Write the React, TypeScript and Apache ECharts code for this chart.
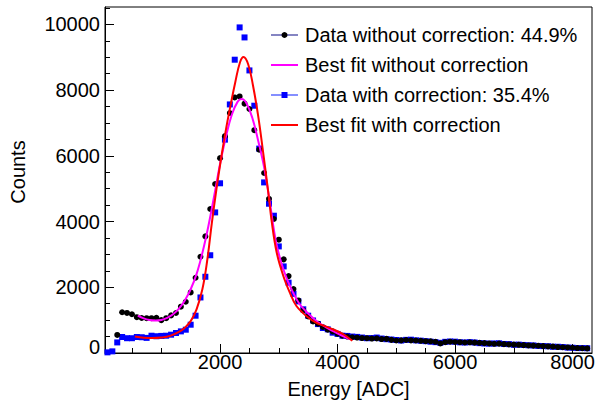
import React, { useEffect, useRef } from "react";
import * as echarts from "echarts";

const binWidth = 83.33;

// bin k = 1..99 (energy = k * binWidth); null where no marker is drawn
const countsWithout = [
  null, null, 550, 1240, 1220, 1180, 1090, 1065, 1060, 1060,
  1070, 1000, 1060, 1145, 1217, 1410, 1560, 1844, 2290, 2930,
  3549, 4382, 5143, 5930, 6600, 7304, 7778, 7809, 7587, 7425,
  6780, 6187, 5478, 4690, 4078, 3448, 2850, 2340, 1948, 1600,
  1297, 1114, 962, 891, 791, 709, 658, 587, 526, 500,
  480, 470, 455, 450, 440, 445, 425, 430, 400, 380,
  385, 395, 385, 380, 370, 360, 355, 340, 290, 330,
  345, 335, 330, 320, 325, 315, 310, 300, 290, 280,
  285, 270, 260, 255, 250, 240, 230, 225, 220, 210,
  200, 195, 180, 175, 170, 160, 150, 145, 140,
];

const countsWith = [
  20, 50, 322, 487, 450, 450, 487, 480, 460, 526,
  510, 520, 526, 557, 608, 658, 709, 861, 1135, 1690,
  2320, 2975, 4279, 5165, 6493, 7565, 8926, 9909, 9604, 8600,
  7526, 6220, 5192, 4543, 4178, 3244, 2635, 2140, 1800, 1571,
  1330, 1135, 990, 880, 760, 720, 618, 580, 526, 520,
  500, 490, 470, 450, 455, 470, 440, 420, 410, 395,
  380, 400, 405, 385, 375, 360, 345, 330, 310, 340,
  350, 345, 325, 320, 330, 320, 300, 290, 285, 290,
  295, 275, 270, 250, 255, 245, 235, 230, 215, 210,
  205, 190, 190, 180, 165, 160, 150, 150, 145,
];

const fitWithoutEnergy = [600, 700, 800, 900, 1000, 1100, 1200, 1300, 1400, 1500, 1600, 1700, 1800, 1900, 2000, 2100, 2200, 2300, 2370, 2450, 2550, 2650, 2750, 2850, 2950, 3050, 3150, 3250, 3350, 3500, 3650, 3800, 3950, 4100, 4200];
const fitWithoutCounts = [1140, 1055, 1005, 990, 1005, 1070, 1180, 1350, 1600, 1940, 2400, 3050, 3850, 4780, 5750, 6580, 7250, 7650, 7730, 7600, 7150, 6450, 5650, 4550, 3400, 2700, 2200, 1820, 1500, 1200, 960, 790, 640, 510, 420];

const fitWithEnergy = [550, 700, 850, 1000, 1150, 1300, 1400, 1500, 1600, 1700, 1780, 1860, 1940, 2020, 2100, 2180, 2260, 2340, 2400, 2480, 2560, 2650, 2730, 2820, 2880, 2965, 3080, 3190, 3300, 3500, 3650, 3800, 3950, 4100, 4250];
const fitWithCounts = [500, 465, 455, 470, 520, 640, 770, 970, 1330, 1950, 2800, 3950, 5000, 5950, 6800, 7550, 8250, 8850, 9008, 8780, 8150, 7200, 6150, 4900, 3990, 3050, 2330, 1830, 1430, 1080, 910, 810, 700, 570, 370];

const xMajorTicks = [2000, 4000, 6000, 8000];
const xMinorTicks = [500, 1000, 1500, 2500, 3000, 3500, 4500, 5000, 5500, 6500, 7000, 7500];
const yMajorTicks = [0, 2000, 4000, 6000, 8000, 10000];
const yMinorTicks = [500, 1000, 1500, 2500, 3000, 3500, 4500, 5000, 5500, 6500, 7000, 7500, 8500, 9000, 9500, 10500];

const legendLabels = [
  "Data without correction: 44.9%",
  "Best fit without correction",
  "Data with correction: 35.4%",
  "Best fit with correction",
];
const xTitle = "Energy [ADC]";
const yTitle = "Counts";

const FONT = "'Liberation Sans', Arial, Helvetica, sans-serif";

function pairs(xs: number[], ys: (number | null)[]) {
  const out: [number, number][] = [];
  ys.forEach((y, i) => {
    if (y !== null && y !== undefined) out.push([xs[i], y]);
  });
  return out;
}

export default function App() {
  const ref = useRef<HTMLDivElement>(null);
  useEffect(() => {
    document.body.style.margin = "0";
    if (!ref.current) return;
    const chart = echarts.init(ref.current, undefined, { renderer: "svg" });
    const energies = countsWith.map((_, i) => (i + 1) * binWidth);
    const xMin = 41.67;
    const xMax = 8331;
    const yMax = 10530;
    const baseAxis = {
      type: "value" as const,
      splitLine: { show: false },
    };
    const legendRows = [35, 65, 95, 125];
    const lx1 = 271, lx2 = 298, lmx = 284.5, ltx = 305;
    const graphic: any[] = [];
    const lineColors = ["#333399", "#ff00ff", "#3344ff", "#ff0000"];
    legendRows.forEach((y, i) => {
      graphic.push({
        type: "line",
        shape: { x1: lx1, y1: y, x2: lx2, y2: y },
        style: { stroke: lineColors[i], lineWidth: i % 2 === 1 ? 2 : 1.2 },
      });
      if (i === 0) {
        graphic.push({ type: "circle", shape: { cx: lmx, cy: y, r: 3 }, style: { fill: "#000" } });
      }
      if (i === 2) {
        graphic.push({ type: "rect", shape: { x: lmx - 3, y: y - 3, width: 6, height: 6 }, style: { fill: "#0000ff" } });
      }
      graphic.push({
        type: "text",
        x: ltx,
        y: y,
        style: {
          text: legendLabels[i],
          font: `20px ${FONT}`,
          fill: "#000",
          verticalAlign: "middle",
          align: "left",
        },
      });
    });
    graphic.push({
      type: "text",
      x: 17.5,
      y: 172,
      rotation: Math.PI / 2,
      style: {
        text: yTitle,
        font: `20px ${FONT}`,
        fill: "#000",
        align: "center",
        verticalAlign: "middle",
      },
    });

    chart.setOption({
      animation: false,
      backgroundColor: "#fff",
      grid: {
        left: 105,
        right: 3,
        top: 7,
        bottom: 47,
        show: true,
        borderColor: "#000",
        borderWidth: 1,
        containLabel: false,
        outerBoundsMode: "none",
      },
      xAxis: [
        {
          ...baseAxis,
          min: xMin,
          max: xMax,
          position: "bottom",
          name: xTitle,
          nameLocation: "middle",
          nameGap: 26,
          nameTextStyle: { fontFamily: FONT, fontSize: 20, color: "#000" },
          axisLine: { show: true, lineStyle: { color: "#000", width: 1 } },
          axisTick: { show: true, inside: true, length: 9, lineStyle: { color: "#000" }, customValues: xMajorTicks },
          axisLabel: {
            show: true,
            customValues: xMajorTicks,
            fontFamily: FONT,
            fontSize: 20,
            color: "#000",
            margin: -1,
            formatter: (v: number) => String(v),
          },
        },
        {
          ...baseAxis,
          min: xMin,
          max: xMax,
          position: "bottom",
          axisLine: { show: false },
          axisTick: { show: true, inside: true, length: 5, lineStyle: { color: "#000" }, customValues: xMinorTicks },
          axisLabel: { show: false },
        },
      ],
      yAxis: [
        {
          ...baseAxis,
          min: 0,
          max: yMax,
          position: "left",
          axisLine: { show: true, lineStyle: { color: "#000", width: 1 } },
          axisTick: { show: true, inside: true, length: 9, lineStyle: { color: "#000" }, customValues: yMajorTicks },
          axisLabel: {
            show: true,
            customValues: yMajorTicks,
            fontFamily: FONT,
            fontSize: 20,
            color: "#000",
            margin: 5,
            formatter: (v: number) => (v === 0 ? "{z|0}" : String(v)),
            rich: { z: { fontFamily: FONT, fontSize: 20, color: "#000", padding: [0, 0, 12, 0] } },
          },
        },
        {
          ...baseAxis,
          min: 0,
          max: yMax,
          position: "left",
          axisLine: { show: false },
          axisTick: { show: true, inside: true, length: 5, lineStyle: { color: "#000" }, customValues: yMinorTicks },
          axisLabel: { show: false },
        },
      ],
      series: [
        {
          name: legendLabels[2],
          type: "scatter",
          xAxisIndex: 0,
          yAxisIndex: 0,
          symbol: "rect",
          symbolSize: 6,
          itemStyle: { color: "#0000ff", opacity: 1 },
          data: pairs(energies, countsWith),
          z: 2,
        },
        {
          name: legendLabels[0],
          type: "scatter",
          xAxisIndex: 0,
          yAxisIndex: 0,
          symbol: "circle",
          symbolSize: 6,
          itemStyle: { color: "#000000", opacity: 1 },
          data: pairs(energies, countsWithout),
          z: 3,
        },
        {
          name: legendLabels[1],
          type: "line",
          xAxisIndex: 0,
          yAxisIndex: 0,
          showSymbol: false,
          smooth: 0.4,
          lineStyle: { color: "#ff00ff", width: 2 },
          data: pairs(fitWithoutEnergy, fitWithoutCounts),
          z: 4,
        },
        {
          name: legendLabels[3],
          type: "line",
          xAxisIndex: 0,
          yAxisIndex: 0,
          showSymbol: false,
          smooth: 0.4,
          lineStyle: { color: "#ff0000", width: 2 },
          data: pairs(fitWithEnergy, fitWithCounts),
          z: 5,
        },
      ],
      graphic,
    });
    return () => chart.dispose();
  }, []);
  return <div ref={ref} style={{ width: 595, height: 400 }} />;
}
